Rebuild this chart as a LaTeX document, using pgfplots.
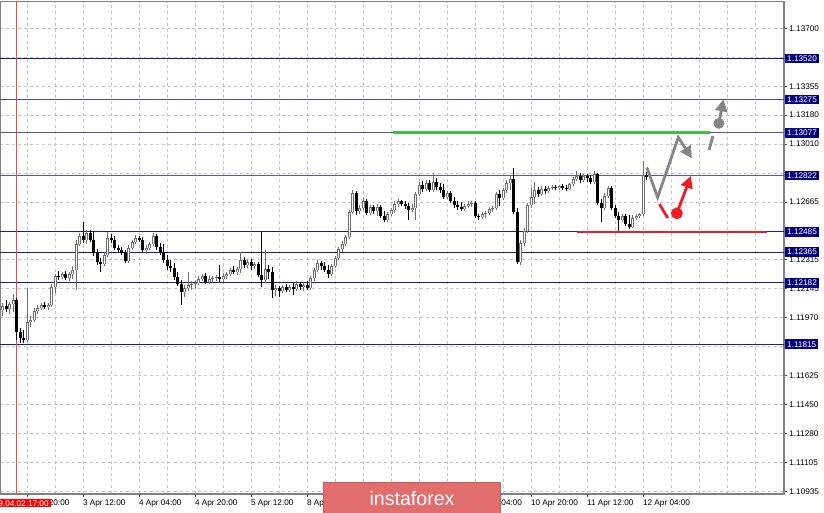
\documentclass[border=0pt]{standalone}
\usepackage{pgfplots}
\pgfplotsset{compat=1.18}
\usepackage{pgfplotstable}
\usepackage{fontspec}
\setmainfont{Liberation Sans}
\usetikzlibrary{arrows.meta}

\definecolor{lvl}{HTML}{000080}
\definecolor{lvline}{HTML}{1C1C9A}
\definecolor{gridc}{HTML}{C4C4C4}
\definecolor{bullc}{HTML}{6E6E6E}
\definecolor{wmark}{HTML}{E26D6D}
\definecolor{arrg}{HTML}{858585}
\definecolor{arrr}{HTML}{EE1C25}
\definecolor{grn}{HTML}{3CBF3C}
\newcommand\tk{\fontsize{4.1pt}{5pt}\selectfont}

% H1 candles, i = bar index (0 = 2 Apr 17:00)
\pgfplotstableread{
i o h l c
-4 1.12018 1.12060 1.11982 1.12042
-3 1.12042 1.12078 1.12006 1.12024
-2 1.12024 1.12066 1.11994 1.12054
-1 1.12054 1.12114 1.12006 1.12078
0 1.12078 1.12090 1.11839 1.11887
1 1.11887 1.11911 1.11821 1.11851
2 1.11851 1.11899 1.11821 1.11839
3 1.11839 1.12149 1.11827 1.11946
4 1.11946 1.11982 1.11916 1.11958
5 1.11958 1.12030 1.11946 1.12012
6 1.12012 1.12048 1.11994 1.12030
7 1.12030 1.12060 1.12018 1.12048
8 1.12048 1.12066 1.12024 1.12036
9 1.12036 1.12060 1.12018 1.12048
10 1.12048 1.12173 1.12036 1.12155
11 1.12155 1.12233 1.12119 1.12221
12 1.12221 1.12251 1.12197 1.12215
13 1.12215 1.12245 1.12203 1.12233
14 1.12233 1.12251 1.12197 1.12209
15 1.12209 1.12245 1.12191 1.12233
16 1.12233 1.12281 1.12203 1.12257
17 1.12257 1.12436 1.12137 1.12412
18 1.12412 1.12478 1.12400 1.12460
19 1.12460 1.12543 1.12418 1.12436
20 1.12436 1.12496 1.12412 1.12478
21 1.12478 1.12496 1.12424 1.12436
22 1.12436 1.12484 1.12340 1.12358
23 1.12358 1.12382 1.12287 1.12304
24 1.12304 1.12328 1.12245 1.12293
25 1.12293 1.12364 1.12281 1.12346
26 1.12346 1.12484 1.12334 1.12448
27 1.12448 1.12472 1.12418 1.12436
28 1.12436 1.12460 1.12376 1.12388
29 1.12388 1.12406 1.12364 1.12376
30 1.12376 1.12394 1.12346 1.12358
31 1.12358 1.12376 1.12298 1.12311
32 1.12311 1.12406 1.12298 1.12388
33 1.12388 1.12436 1.12376 1.12424
34 1.12424 1.12466 1.12412 1.12448
35 1.12448 1.12460 1.12424 1.12436
36 1.12436 1.12454 1.12364 1.12376
37 1.12376 1.12406 1.12352 1.12388
38 1.12388 1.12424 1.12376 1.12412
39 1.12412 1.12478 1.12400 1.12460
40 1.12460 1.12472 1.12376 1.12394
41 1.12394 1.12418 1.12346 1.12364
42 1.12364 1.12412 1.12298 1.12316
43 1.12316 1.12346 1.12257 1.12281
44 1.12281 1.12316 1.12245 1.12269
45 1.12269 1.12298 1.12197 1.12215
46 1.12215 1.12245 1.12161 1.12173
47 1.12173 1.12197 1.12048 1.12125
48 1.12125 1.12167 1.12096 1.12149
49 1.12149 1.12245 1.12132 1.12167
50 1.12167 1.12191 1.12137 1.12173
51 1.12173 1.12197 1.12149 1.12179
52 1.12179 1.12221 1.12167 1.12203
53 1.12203 1.12233 1.12191 1.12221
54 1.12221 1.12239 1.12173 1.12185
55 1.12185 1.12221 1.12173 1.12203
56 1.12203 1.12221 1.12185 1.12209
57 1.12209 1.12227 1.12191 1.12215
58 1.12215 1.12287 1.12185 1.12203
59 1.12203 1.12239 1.12185 1.12221
60 1.12221 1.12245 1.12203 1.12233
61 1.12233 1.12269 1.12221 1.12257
62 1.12257 1.12281 1.12233 1.12245
63 1.12245 1.12275 1.12227 1.12263
64 1.12263 1.12364 1.12239 1.12316
65 1.12316 1.12334 1.12269 1.12287
66 1.12287 1.12323 1.12269 1.12304
67 1.12304 1.12323 1.12257 1.12281
68 1.12281 1.12304 1.12263 1.12293
69 1.12293 1.12304 1.12215 1.12227
70 1.12227 1.12484 1.12155 1.12197
71 1.12197 1.12376 1.12179 1.12263
72 1.12263 1.12287 1.12203 1.12245
73 1.12245 1.12275 1.12090 1.12137
74 1.12137 1.12167 1.12102 1.12149
75 1.12149 1.12161 1.12096 1.12132
76 1.12132 1.12167 1.12119 1.12155
77 1.12155 1.12173 1.12125 1.12137
78 1.12137 1.12167 1.12125 1.12155
79 1.12155 1.12179 1.12107 1.12143
80 1.12143 1.12191 1.12132 1.12173
81 1.12173 1.12185 1.12137 1.12155
82 1.12155 1.12185 1.12132 1.12167
83 1.12167 1.12191 1.12137 1.12149
84 1.12149 1.12221 1.12137 1.12209
85 1.12209 1.12269 1.12191 1.12257
86 1.12257 1.12316 1.12245 1.12298
87 1.12298 1.12311 1.12257 1.12281
88 1.12281 1.12304 1.12245 1.12257
89 1.12257 1.12287 1.12209 1.12233
90 1.12233 1.12293 1.12221 1.12281
91 1.12281 1.12340 1.12269 1.12328
92 1.12328 1.12394 1.12316 1.12382
93 1.12382 1.12430 1.12364 1.12412
94 1.12412 1.12466 1.12400 1.12454
95 1.12454 1.12615 1.12442 1.12603
96 1.12603 1.12734 1.12591 1.12716
97 1.12716 1.12729 1.12585 1.12609
98 1.12609 1.12645 1.12591 1.12627
99 1.12627 1.12687 1.12615 1.12669
100 1.12669 1.12681 1.12585 1.12597
101 1.12597 1.12645 1.12585 1.12633
102 1.12633 1.12645 1.12591 1.12609
103 1.12609 1.12651 1.12579 1.12633
104 1.12633 1.12645 1.12567 1.12579
105 1.12579 1.12609 1.12543 1.12555
106 1.12555 1.12603 1.12543 1.12591
107 1.12591 1.12627 1.12579 1.12615
108 1.12615 1.12669 1.12597 1.12651
109 1.12651 1.12681 1.12633 1.12669
110 1.12669 1.12675 1.12639 1.12651
111 1.12651 1.12669 1.12621 1.12639
112 1.12639 1.12657 1.12555 1.12615
113 1.12615 1.12651 1.12603 1.12627
114 1.12627 1.12722 1.12555 1.12711
115 1.12711 1.12782 1.12699 1.12764
116 1.12764 1.12788 1.12722 1.12740
117 1.12740 1.12794 1.12729 1.12776
118 1.12776 1.12794 1.12722 1.12734
119 1.12734 1.12836 1.12722 1.12782
120 1.12782 1.12806 1.12734 1.12752
121 1.12752 1.12776 1.12716 1.12734
122 1.12734 1.12770 1.12681 1.12693
123 1.12693 1.12729 1.12681 1.12716
124 1.12716 1.12729 1.12657 1.12669
125 1.12669 1.12693 1.12627 1.12645
126 1.12645 1.12669 1.12615 1.12633
127 1.12633 1.12663 1.12609 1.12621
128 1.12621 1.12651 1.12609 1.12639
129 1.12639 1.12669 1.12627 1.12651
130 1.12651 1.12669 1.12633 1.12657
131 1.12657 1.12669 1.12567 1.12579
132 1.12579 1.12591 1.12555 1.12573
133 1.12573 1.12603 1.12561 1.12591
134 1.12591 1.12609 1.12567 1.12597
135 1.12597 1.12633 1.12585 1.12621
136 1.12621 1.12639 1.12603 1.12627
137 1.12627 1.12722 1.12615 1.12711
138 1.12711 1.12734 1.12639 1.12687
139 1.12687 1.12746 1.12675 1.12734
140 1.12734 1.12794 1.12716 1.12776
141 1.12776 1.12824 1.12734 1.12800
142 1.12800 1.12866 1.12591 1.12603
143 1.12603 1.12627 1.12293 1.12304
144 1.12304 1.12436 1.12287 1.12418
145 1.12418 1.12507 1.12400 1.12490
146 1.12490 1.12657 1.12478 1.12645
147 1.12645 1.12746 1.12627 1.12693
148 1.12693 1.12782 1.12651 1.12734
149 1.12734 1.12752 1.12693 1.12711
150 1.12711 1.12758 1.12699 1.12740
151 1.12740 1.12758 1.12711 1.12729
152 1.12729 1.12758 1.12716 1.12746
153 1.12746 1.12764 1.12734 1.12752
154 1.12752 1.12764 1.12734 1.12746
155 1.12746 1.12764 1.12734 1.12758
156 1.12758 1.12770 1.12734 1.12746
157 1.12746 1.12764 1.12729 1.12740
158 1.12740 1.12776 1.12734 1.12770
159 1.12770 1.12812 1.12758 1.12800
160 1.12800 1.12848 1.12788 1.12818
161 1.12818 1.12836 1.12776 1.12794
162 1.12794 1.12830 1.12782 1.12818
163 1.12818 1.12830 1.12782 1.12806
164 1.12806 1.12824 1.12770 1.12782
165 1.12782 1.12848 1.12770 1.12830
166 1.12830 1.12836 1.12645 1.12657
167 1.12657 1.12681 1.12543 1.12627
168 1.12627 1.12716 1.12615 1.12699
169 1.12699 1.12758 1.12687 1.12746
170 1.12746 1.12758 1.12615 1.12627
171 1.12627 1.12645 1.12567 1.12579
172 1.12579 1.12603 1.12484 1.12555
173 1.12555 1.12591 1.12543 1.12579
174 1.12579 1.12591 1.12520 1.12531
175 1.12531 1.12585 1.12502 1.12513
176 1.12513 1.12585 1.12507 1.12567
177 1.12567 1.12591 1.12555 1.12579
178 1.12579 1.12597 1.12567 1.12591
179 1.12591 1.12908 1.12579 1.12824
180 1.12824 1.12842 1.12794 1.12812
}\candles

\begin{document}
\begin{tikzpicture}[lvbox/.style={fill=lvl, text=white, anchor=west, inner xsep=1pt,
    inner ysep=1pt, text height=2.9pt, text depth=0pt, font=\tk, xshift=0.4pt}]
\useasboundingbox (0,0) rectangle (412pt,256.5pt);
\begin{axis}[
  scale only axis, width=392pt, height=246.15pt,
  at={(0pt,9.5pt)}, anchor=south west,
  xmin=-4.77, xmax=219.2, ymin=1.10921, ymax=1.13859,
  axis line style={draw=gray, line width=0.6pt},
  xtick pos=left, ytick pos=right, yticklabel pos=right,
  tick align=outside, major tick length=1.5pt, minor tick length=0pt,
  tick style={draw=black!70, line width=0.5pt},
  xtick={3,19,...,179},
  xticklabels={2 Apr 20:00, 3 Apr 12:00, 4 Apr 04:00, 4 Apr 20:00, 5 Apr 12:00,
    8 Apr 04:00, 8 Apr 20:00, 9 Apr 12:00, 10 Apr 04:00, 10 Apr 20:00,
    11 Apr 12:00, 12 Apr 04:00},
  minor xtick={11,27,...,171,187,195,203,211},
  ytick={1.13700,1.13527,1.13354,1.13182,1.13009,1.12836,1.12663,1.12490,
    1.12318,1.12145,1.11972,1.11799,1.11626,1.11453,1.11281,1.11108,1.10935},
  yticklabels={1.13700,,1.13355,1.13180,1.13010,,1.12665,,1.12315,1.12145,
    1.11970,1.11800,1.11625,1.11450,1.11280,1.11105,1.10935},
  grid=both,
  major grid style={draw=gridc, dash pattern=on 1.5pt off 1.5pt, line width=0.5pt},
  minor grid style={draw=gridc, dash pattern=on 1.5pt off 1.5pt, line width=0.5pt},
  xticklabel style={font=\tk, anchor=north west, inner sep=0pt, xshift=-0.3pt, yshift=-1.2pt},
  yticklabel style={font=\tk, anchor=west, inner sep=0pt, xshift=1pt},
  clip=true,
]
% level lines
\addplot[lvline, line width=0.5pt] coordinates {(-10,1.13520) (230,1.13520)};
\addplot[lvline!80!white, line width=0.5pt] coordinates {(-10,1.13275) (230,1.13275)};
\addplot[lvline!75!white, line width=0.5pt] coordinates {(-10,1.13077) (230,1.13077)};
\addplot[lvline!75!white, line width=0.5pt] coordinates {(-10,1.12822) (230,1.12822)};
\addplot[lvline, line width=0.5pt] coordinates {(-10,1.12485) (230,1.12485)};
\addplot[lvline, line width=0.5pt] coordinates {(-10,1.12365) (230,1.12365)};
\addplot[lvline, line width=0.5pt] coordinates {(-10,1.12182) (230,1.12182)};
\addplot[lvline, line width=0.5pt] coordinates {(-10,1.11815) (230,1.11815)};
\coordinate (lv1) at (axis cs:219.2,1.13520);
\coordinate (lv2) at (axis cs:219.2,1.13275);
\coordinate (lv3) at (axis cs:219.2,1.13077);
\coordinate (lv4) at (axis cs:219.2,1.12822);
\coordinate (lv5) at (axis cs:219.2,1.12485);
\coordinate (lv6) at (axis cs:219.2,1.12365);
\coordinate (lv7) at (axis cs:219.2,1.12182);
\coordinate (lv8) at (axis cs:219.2,1.11815);
% start marker
\addplot[red!75, line width=0.5pt] coordinates {(0,1.10) (0,1.14)};
% wicks
\addplot[draw=none, mark=none, restrict expr to domain={\thisrow{c}-\thisrow{o}}{0.000001:1},
  error bars/.cd, y dir=plus, y explicit, error mark=none,
  error bar style={draw=bullc, line width=0.55pt}]
  table[x=i, y=l, y error plus expr=\thisrow{h}-\thisrow{l}] {\candles};
\addplot[draw=none, mark=none, restrict expr to domain={\thisrow{c}-\thisrow{o}}{-1:0},
  error bars/.cd, y dir=plus, y explicit, error mark=none,
  error bar style={draw=black, line width=0.55pt}]
  table[x=i, y=l, y error plus expr=\thisrow{h}-\thisrow{l}] {\candles};
% bodies
\addplot[draw=none, mark=none, restrict expr to domain={\thisrow{c}-\thisrow{o}}{-1:0},
  error bars/.cd, y dir=plus, y explicit, error mark=none,
  error bar style={draw=black, line width=1.5pt}]
  table[x=i, y=c, y error plus expr=\thisrow{o}-\thisrow{c}] {\candles};
\addplot[draw=none, mark=none, restrict expr to domain={\thisrow{c}-\thisrow{o}}{0.000001:1},
  error bars/.cd, y dir=plus, y explicit, error mark=none,
  error bar style={draw=bullc, line width=1.5pt}]
  table[x=i, y=o, y error plus expr=\thisrow{c}-\thisrow{o}] {\candles};
\addplot[draw=none, mark=none, restrict expr to domain={\thisrow{c}-\thisrow{o}}{0.0001:1},
  error bars/.cd, y dir=plus, y explicit, error mark=none,
  error bar style={draw=white, line width=0.5pt}]
  table[x=i, y expr=\thisrow{o}+0.00003, y error plus expr=\thisrow{c}-\thisrow{o}-0.00006] {\candles};
% forecast drawings
\addplot[grn, line width=1.3pt] coordinates {(107.5,1.13077) (198.1,1.13077)};
\addplot[arrr, line width=1.3pt] coordinates {(160,1.12485) (214.3,1.12485)};
\addplot[arrg, line width=1.4pt, -{Triangle[length=6pt,width=6pt]}]
  coordinates {(180,1.12870) (183.1,1.12691) (189.0,1.13049) (192.9,1.12924)};
\addplot[arrg, line width=1.4pt] coordinates {(197.8,1.12974) (198.9,1.13057)};
\addplot[arrg, line width=1.4pt, -{Triangle[length=6pt,width=6pt]}]
  coordinates {(200.6,1.13133) (201.9,1.13276)};
\addplot[arrg, only marks, mark=*, mark size=2.5pt] coordinates {(200.6,1.13133)};
\addplot[arrr, line width=1.4pt] coordinates {(183.6,1.12651) (186,1.12568)};
\addplot[arrr, line width=1.4pt, -{Triangle[length=6pt,width=6pt]}]
  coordinates {(188.6,1.12596) (192.6,1.12819)};
\addplot[arrr, only marks, mark=*, mark size=2.75pt] coordinates {(188.6,1.12596)};
\end{axis}
% level price boxes on the price scale
\node[lvbox] at (lv1) {1.13520};
\node[lvbox] at (lv2) {1.13275};
\node[lvbox] at (lv3) {1.13077};
\node[lvbox] at (lv4) {1.12822};
\node[lvbox] at (lv5) {1.12485};
\node[lvbox] at (lv6) {1.12365};
\node[lvbox] at (lv7) {1.12182};
\node[lvbox] at (lv8) {1.11815};
% date box and watermark
\node[fill=red, text=white, anchor=east, inner xsep=1pt, inner ysep=0.6pt,
  text height=2.9pt, text depth=0pt, font=\tk] at (25.5pt,4.85pt) {2019.04.02 17:00};
\node[fill=wmark, draw=wmark!85!black, line width=0.5pt, anchor=south west,
  minimum width=88.5pt, minimum height=15.5pt, inner sep=0pt, text=white,
  font=\fontsize{9.8pt}{10pt}\selectfont] at (161.5pt,-0.5pt) {instaforex};
\end{tikzpicture}
\end{document}
